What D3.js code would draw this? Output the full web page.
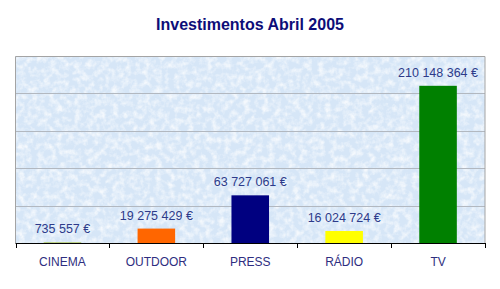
<!DOCTYPE html>
<html>
<head>
<meta charset="utf-8">
<script src="https://cdn.jsdelivr.net/npm/d3@7"></script>
<style>
  body { margin: 0; background: #fff; }
  svg { display: block; font-family: "Liberation Sans", Arial, sans-serif; }
</style>
</head>
<body>
<div id="chart"></div>
<script>
// data
const categories = ['CINEMA', 'OUTDOOR', 'PRESS', 'RÁDIO', 'TV'];
const values = [735557, 19275429, 63727061, 16024724, 210148364];
const barColors = ['#9dbb2f', '#ff6600', '#000080', '#ffff00', '#008000'];
const yTicks = [0, 50000000, 100000000, 150000000, 200000000, 250000000];
const title = 'Investimentos Abril 2005';

const width = 500, height = 289;
const margin = {top: 56, right: 15, bottom: 46, left: 15.5};

const svg = d3.select('#chart').append('svg')
    .attr('width', width)
    .attr('height', height);

const x = d3.scaleBand()
    .domain(categories)
    .range([margin.left, width - margin.right])
    .paddingInner(0.6)
    .paddingOuter(0.3);

const y = d3.scaleLinear()
    .domain([0, 250000000])
    .range([height - margin.bottom, margin.top]);

const pt = d3.formatLocale({decimal: ',', thousands: ' ', grouping: [3], currency: ['', ' €']});
const fmt = pt.format('$,.0f');

// paper-like texture for the plot background
const defs = svg.append('defs');
const filt = defs.append('filter')
    .attr('id', 'paper')
    .attr('x', 0).attr('y', 0).attr('width', 1).attr('height', 1);
filt.append('feTurbulence')
    .attr('type', 'fractalNoise')
    .attr('baseFrequency', 0.16)
    .attr('numOctaves', 3)
    .attr('seed', 7)
    .attr('result', 'noise');
filt.append('feColorMatrix')
    .attr('in', 'noise')
    .attr('type', 'matrix')
    .attr('values', '0 0 0 0 1  0 0 0 0 1  0 0 0 0 1  0 0 0 2.2 -0.85')
    .attr('result', 'spots');
filt.append('feComposite')
    .attr('in', 'spots')
    .attr('in2', 'SourceGraphic')
    .attr('operator', 'in');

const x0 = margin.left, x1 = width - margin.right;
const yTop = y(250000000), yBot = y(0);

svg.append('rect')
    .attr('x', x0).attr('y', yTop)
    .attr('width', x1 - x0).attr('height', yBot - yTop)
    .attr('fill', '#d6e6f7');
svg.append('rect')
    .attr('x', x0).attr('y', yTop)
    .attr('width', x1 - x0).attr('height', yBot - yTop)
    .attr('fill', '#fff')
    .attr('opacity', 0.75)
    .attr('filter', 'url(#paper)');

// gridlines
svg.append('g')
    .selectAll('line')
    .data(yTicks.slice(1, -1))
    .join('line')
    .attr('x1', x0).attr('x2', x1)
    .attr('y1', d => Math.round(y(d)) + 0.5)
    .attr('y2', d => Math.round(y(d)) + 0.5)
    .attr('stroke', '#b2b8c0')
    .attr('stroke-width', 1);

// frame (top, left, right)
svg.append('path')
    .attr('d', `M${x0},${yBot}V${Math.round(yTop) + 0.5}H${x1}V${yBot}`)
    .attr('fill', 'none')
    .attr('stroke', '#a4a4a4');

// bars
svg.append('g')
    .selectAll('rect')
    .data(values)
    .join('rect')
    .attr('x', (d, i) => x(categories[i]))
    .attr('y', d => y(d))
    .attr('width', x.bandwidth())
    .attr('height', d => yBot - y(d))
    .attr('fill', (d, i) => barColors[i]);

// value labels
svg.append('g')
    .selectAll('text')
    .data(values)
    .join('text')
    .attr('x', (d, i) => x(categories[i]) + x.bandwidth() / 2)
    .attr('y', d => y(d) - 9)
    .attr('text-anchor', 'middle')
    .attr('font-size', 12.5)
    .attr('fill', '#2d3b8a')
    .text(d => fmt(d));

// x axis
const edges = d3.range(categories.length + 1).map(i => x0 + i * (x1 - x0) / categories.length);
const xAxis = svg.append('g');
xAxis.append('line')
    .attr('x1', x0).attr('x2', x1)
    .attr('y1', Math.round(yBot) + 0.5).attr('y2', Math.round(yBot) + 0.5)
    .attr('stroke', '#000');
xAxis.selectAll('.tick')
    .data(edges)
    .join('line')
    .attr('class', 'tick')
    .attr('x1', d => Math.round(d) + 0.5).attr('x2', d => Math.round(d) + 0.5)
    .attr('y1', Math.round(yBot)).attr('y2', Math.round(yBot) + 5)
    .attr('stroke', '#000');
xAxis.selectAll('text')
    .data(categories)
    .join('text')
    .attr('x', d => x(d) + x.bandwidth() / 2)
    .attr('y', yBot + 23)
    .attr('text-anchor', 'middle')
    .attr('font-size', 12)
    .attr('fill', '#2e2e80')
    .text(d => d);

// title
svg.append('text')
    .attr('x', width / 2)
    .attr('y', 30)
    .attr('text-anchor', 'middle')
    .attr('font-size', 16)
    .attr('font-weight', 'bold')
    .attr('fill', '#0d0d78')
    .text(title);
</script>
</body>
</html>
